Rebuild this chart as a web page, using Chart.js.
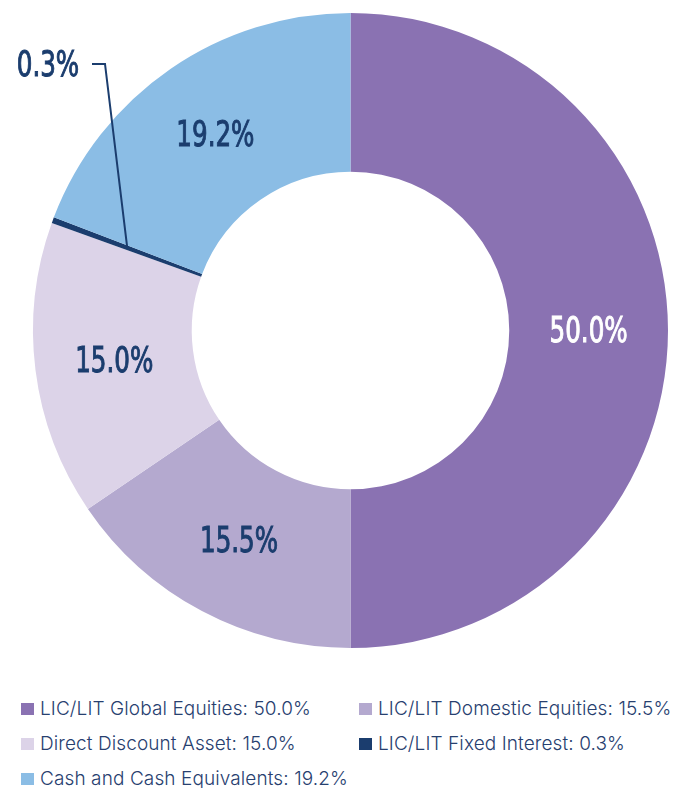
<!DOCTYPE html>
<html>
<head>
<meta charset="utf-8">
<script src="https://cdn.jsdelivr.net/npm/chart.js@4"></script>
<style>
  html, body { margin: 0; padding: 0; background: #fff; }
  #wrap { position: relative; width: 678px; height: 690px; }
  #legend {
    display: grid;
    grid-template-columns: 338px 340px;
    row-gap: 10px;
    padding-left: 21px;
    padding-top: 6px;
    font-family: Inter, Roboto, sans-serif;
    font-weight: 300;
    font-size: 19px;
    letter-spacing: 0.1px;
    color: #27406f;
  }
  #legend div { display: flex; align-items: center; height: 25px; white-space: nowrap; }
  #legend span.sw { display: inline-block; width: 13px; height: 12px; margin-right: 6px; }
</style>
</head>
<body>
<div id="wrap"><canvas id="donut"></canvas></div>
<div id="legend"></div>
<script>
const labels = ['LIC/LIT Global Equities', 'LIC/LIT Domestic Equities', 'Direct Discount Asset', 'LIC/LIT Fixed Interest', 'Cash and Cash Equivalents'];
const values = [50.0, 15.5, 15.0, 0.3, 19.2];
const colours = ['#8a72b2', '#b4a9cf', '#dcd3e8', '#1b3d6e', '#8bbde5'];
const labelColours = ['#ffffff', '#1b3d6e', '#1b3d6e', '#1b3d6e', '#1b3d6e'];

const navy = '#1b3d6e';

// slice percentages drawn in the ring, the tiny one gets a leader line
const sliceLabels = {
  id: 'sliceLabels',
  afterDatasetsDraw(chart) {
    const ctx = chart.ctx;
    const meta = chart.getDatasetMeta(0);
    ctx.save();
    ctx.font = '36px "DejaVu Sans Condensed", sans-serif';
    ctx.textAlign = 'center';
    ctx.textBaseline = 'middle';
    meta.data.forEach((arc, i) => {
      const txt = values[i].toFixed(1) + '%';
      const pos = arc.tooltipPosition();
      let tx = pos.x, ty = pos.y;
      if (values[i] < 1) {
        // leader line from the middle of the slice out to the label
        ctx.strokeStyle = navy;
        ctx.lineWidth = 2;
        ctx.beginPath();
        ctx.moveTo(pos.x, pos.y);
        ctx.lineTo(105, 64);
        ctx.lineTo(92, 64);
        ctx.stroke();
        tx = 48;
        ty = 65;
      }
      ctx.fillStyle = labelColours[i];
      ctx.strokeStyle = labelColours[i];
      ctx.lineWidth = 1;
      ctx.save();
      ctx.translate(tx, ty + 2);
      ctx.scale(0.76, 1);
      ctx.fillText(txt, 0, 0);
      ctx.strokeText(txt, 0, 0);
      ctx.restore();
    });
    ctx.restore();
  }
};

const donutCtx = document.getElementById('donut').getContext('2d');
const donut = new Chart(donutCtx, {
  type: 'doughnut',
  data: {
    labels: labels,
    datasets: [{
      data: values,
      backgroundColor: colours,
      borderWidth: 0
    }]
  },
  options: {
    responsive: true,
    maintainAspectRatio: false,
    animation: false,
    cutout: '50%',
    layout: {
      padding: { left: 33, right: 10, top: 13, bottom: 42 }
    },
    plugins: {
      legend: { display: false },
      tooltip: { enabled: false }
    }
  },
  plugins: [sliceLabels]
});

// legend in two columns, built from the same arrays
const legendEl = document.getElementById('legend');
labels.forEach((name, i) => {
  const item = document.createElement('div');
  const sw = document.createElement('span');
  sw.className = 'sw';
  sw.style.background = colours[i];
  item.appendChild(sw);
  item.appendChild(document.createTextNode(name + ': ' + values[i].toFixed(1) + '%'));
  legendEl.appendChild(item);
});
</script>
</body>
</html>
